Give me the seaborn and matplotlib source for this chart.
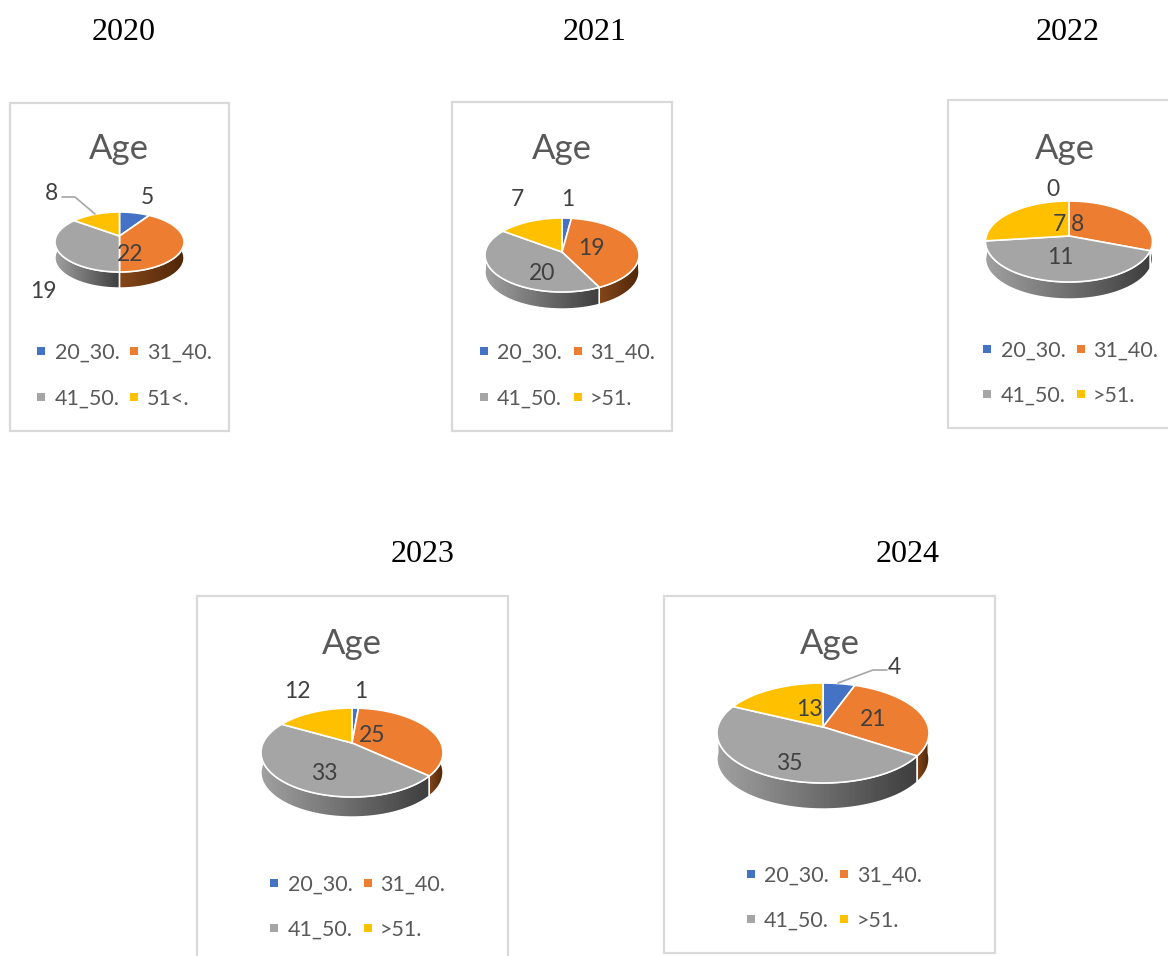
# Five 3D looking age pies, one per year
import numpy as np
import matplotlib
matplotlib.use("Agg")
import matplotlib.pyplot as plt
import seaborn as sns
from matplotlib.colors import LinearSegmentedColormap
from matplotlib.patches import Polygon, Rectangle
from matplotlib.path import Path
from matplotlib.transforms import Affine2D, Transform

# ---------------------------------------------------------
# DATA
# ---------------------------------------------------------

years = ["2020", "2021", "2022", "2023", "2024"]

values_2020 = [5, 22, 19, 8]
values_2021 = [1, 19, 20, 7]
values_2022 = [0, 8, 11, 7]
values_2023 = [1, 25, 33, 12]
values_2024 = [4, 21, 35, 13]

legend_2020 = ["20_30.", "31_40.", "41_50.", "51<."]
legend_other = ["20_30.", "31_40.", "41_50.", ">51."]

series = [values_2020, values_2021, values_2022, values_2023, values_2024]
legends = [legend_2020, legend_other, legend_other, legend_other, legend_other]

# ---------------------------------------------------------
# LAYOUT (reference pixels)
# ---------------------------------------------------------

W, H = 1168, 956
TEXT_DY = 2  # text centres sit a bit high otherwise

layout = [
    dict(year=(124, 30), box=(10, 103, 229, 431), age=(119, 147),
         pie=(119.5, 236, 64.5, 212, 272, 16),
         labels=[(147, 195), (130, 252), (43, 290), (52, 191)],
         legend=(41, 55, 134, 147, 351, 397)),
    dict(year=(595, 30), box=(452, 102, 672, 431), age=(562, 147),
         pie=(562, 252, 77, 218, 292, 17),
         labels=[(568, 197), (591, 246), (542, 272), (517, 197)],
         legend=(484, 497, 578, 590, 351, 397)),
    dict(year=(1068, 30), box=(948, 100, 1190, 428), age=(1065, 147),
         pie=(1069, 236, 83.5, 201, 282, 17),
         labels=[(1053, 187), (1078, 222), (1060, 256), (1059, 222)],
         legend=(987, 1001, 1081, 1093, 349, 394)),
    dict(year=(423, 552), box=(197, 596, 508, 975), age=(352, 642),
         pie=(352, 743, 91, 708, 797, 20),
         labels=[(361, 689), (372, 733), (324, 772), (297, 689)],
         legend=(274, 288, 368, 380, 883, 928)),
    dict(year=(908, 552), box=(664, 596, 995, 953), age=(830, 642),
         pie=(823, 727, 106, 683, 783, 26),
         labels=[(894, 666), (873, 717), (789, 761), (809, 708)],
         legend=(751, 764, 844, 857, 874, 919)),
]

# 4 and 8 have leader lines
leaders = [([62, 75, 95], [197, 197, 214]), ([838, 873, 887], [683, 670, 670])]

# ---------------------------------------------------------
# STYLE
# ---------------------------------------------------------

sns.set_theme(style="white")
plt.rcParams["font.family"] = ["Lato", "DejaVu Sans"]

palette = sns.color_palette(["#4472C4", "#ED7D31", "#A5A5A5", "#FFC000"])
wall_colors = [("#2f5597", "#1f3864"), ("#85461a", "#4f2709"),
               ("#a0a0a0", "#3e3e3e"), ("#bf9000", "#7f6000")]
text_color = "#595959"


class Tilt(Transform):
    # maps the unit circle of the pie onto the tilted disc, far side is smaller
    input_dims = 2
    output_dims = 2

    def __init__(self, cx, cy, rx, top, bottom):
        super().__init__()
        up, down = cy - top, bottom - cy
        self.p = (down - up) / (down + up)
        self.cx, self.cy = cx, cy
        self.rx = rx * np.sqrt(1 - self.p ** 2)
        self.ry = up * (1 + self.p)

    def transform_non_affine(self, values):
        values = np.asarray(values, dtype=float)
        w = 1 + self.p * values[:, 1]
        return np.column_stack([self.cx + self.rx * values[:, 0] / w,
                                self.cy - self.ry * values[:, 1] / w])

    def transform_path_non_affine(self, path):
        polys = path.transformed(Affine2D().scale(400)).to_polygons(closed_only=False)
        pts = np.vstack(polys) / 400 if polys else path.vertices
        pts = np.vstack([pts, pts[:1]])
        return Path(self.transform(pts), closed=True)


fig = plt.figure(figsize=(W / 100, H / 100), dpi=100, facecolor="white")
ax = fig.add_axes([0, 0, 1, 1])

gradient = np.linspace(0, 1, 64)[None, :]

for i, values in enumerate(series):
    cfg = layout[i]
    cx, cy, rx, top, bottom, depth = cfg["pie"]
    tilt = Tilt(cx, cy, rx, top, bottom)

    ax.text(cfg["year"][0], cfg["year"][1] + TEXT_DY, years[i], ha="center", va="center",
            fontsize=23, family="Liberation Serif", color="black")

    x0, y0, x1, y1 = cfg["box"]
    ax.add_patch(Rectangle((x0, y0), x1 - x0, y1 - y0, facecolor="white",
                           edgecolor="#d9d9d9", linewidth=1.6, zorder=0))
    ax.text(cfg["age"][0], cfg["age"][1] + TEXT_DY, "Age", ha="center", va="center",
            fontsize=25, color=text_color)

    # side wall, only the front half of the disc shows
    edges = np.cumsum([0] + values) / sum(values) * 360
    for k in range(len(values)):
        a = max(edges[k], 90)
        b = min(edges[k + 1], 270)
        if b <= a:
            continue
        t = np.radians(np.linspace(a, b, 80))
        rim = tilt.transform(np.column_stack([np.sin(t), np.cos(t)]))
        verts = np.vstack([rim, (rim + [0, depth])[::-1]])
        cmap = LinearSegmentedColormap.from_list("wall", wall_colors[k])
        im = ax.imshow(gradient, cmap=cmap, aspect="auto", zorder=0.5,
                       extent=(verts[:, 0].min(), verts[:, 0].max(),
                               verts[:, 1].max(), verts[:, 1].min()))
        im.set_clip_path(Polygon(verts, transform=ax.transData))
        ax.add_patch(Polygon(verts, fill=False, edgecolor="white", linewidth=1.0, zorder=0.6))

    # top of the pie
    wedges, _ = ax.pie(values, colors=palette, startangle=90, counterclock=False,
                       wedgeprops=dict(edgecolor="white", linewidth=1.2))
    for w in wedges:
        w.set_transform(tilt + ax.transData)

    # data labels
    for v, (lx, ly) in zip(values, cfg["labels"]):
        ax.text(lx, ly + TEXT_DY, str(v), ha="center", va="center", fontsize=16.5,
                color="#404040", zorder=5)

    # legend
    mx1, tx1, mx2, tx2, ry1, ry2 = cfg["legend"]
    spots = [(mx1, tx1, ry1), (mx2, tx2, ry1), (mx1, tx1, ry2), (mx2, tx2, ry2)]
    for k, (mx, tx, ry) in enumerate(spots):
        ax.scatter([mx], [ry], marker="s", s=30, color=palette[k], linewidths=0, zorder=3)
        ax.text(tx, ry + TEXT_DY, legends[i][k], ha="left", va="center", fontsize=15.5,
                color=text_color)

for lx, ly in leaders:
    ax.plot(lx, ly, color="#a6a6a6", linewidth=1.2, zorder=4)

ax.set_aspect("auto")
ax.set_xlim(0, W)
ax.set_ylim(H, 0)
ax.set_axis_off()

fig.savefig("out.png", dpi=100)
